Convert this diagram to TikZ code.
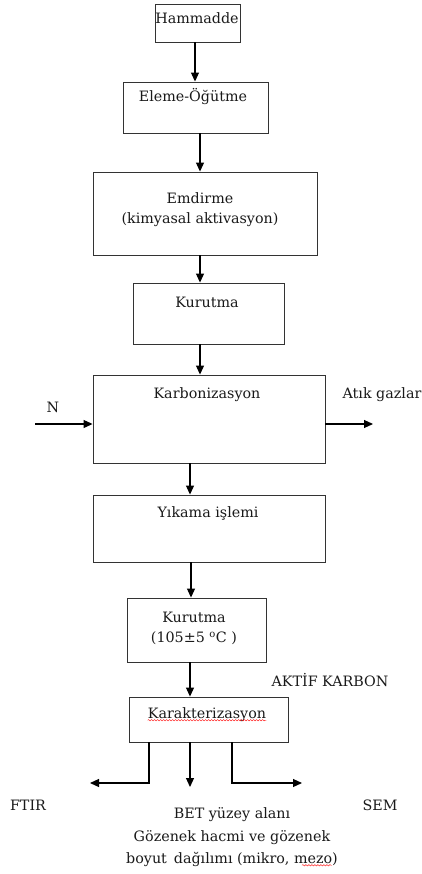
\documentclass[tikz,border=0pt]{standalone}
\usepackage{fontspec}
\setmainfont{DejaVu Serif}
\usetikzlibrary{arrows.meta,decorations.pathmorphing}

\tikzset{
  kutu/.style={draw=black!80, line width=0.9pt, inner sep=0pt},
  yazi/.style={font=\fontsize{14.3}{20}\selectfont, align=center, inner sep=0pt, text=black!90},
  ok/.style={-{Triangle[length=9pt,width=8pt]}, line width=1.1pt},
  hata/.style={red, line width=0.4pt, decorate, decoration={snake, amplitude=0.7pt, segment length=3pt}}
}

\begin{document}
\begin{tikzpicture}[x=1pt,y=-1pt]

  \useasboundingbox (0,0) rectangle (422,874);

  % kutular
  \node[kutu, minimum width=85pt, minimum height=38pt] (ham) at (197.5,23) {};
  \node[kutu, minimum width=145pt, minimum height=51pt] (elem) at (195.5,107.5) {};
  \node[kutu, minimum width=224pt, minimum height=83pt] (emd) at (205,213.5) {};
  \node[kutu, minimum width=151pt, minimum height=61pt] (kur1) at (208.5,313.5) {};
  \node[kutu, minimum width=232pt, minimum height=88pt] (karb) at (209,419) {};
  \node[kutu, minimum width=232pt, minimum height=67pt] (yik) at (209,528.5) {};
  \node[kutu, minimum width=139pt, minimum height=64pt] (kur2) at (196.5,630) {};
  \node[kutu, minimum width=159pt, minimum height=45pt] (kar) at (208.5,719.5) {};

  % yazilar
  \node[yazi] (hamT) at (197,18) {Hammadde};
  \node[yazi] (elemT) at (193,97) {Eleme-Öğütme};
  \node[yazi] (emdT) at (200,210) {Emdirme\\(kimyasal aktivasyon)};
  \node[yazi] (kur1T) at (207,302) {Kurutma};
  \node[yazi] (karbT) at (207,395) {Karbonizasyon};
  \node[yazi] (yikT) at (208,513) {Yıkama işlemi};
  \node[yazi] (kur2T) at (194,628.5) {Kurutma\\(105±5 \textsuperscript{o}C )};
  \node[yazi] (karT) at (207,715) {Karakterizasyon};

  \node[yazi] (nT) at (53,407) {N};
  \node[yazi] (atikT) at (382,395) {Atık gazlar};
  \node[yazi] (aktifT) at (330,680) {AKTİF KARBON};
  \node[yazi] (ftirT) at (28,805) {FTIR};
  \node[yazi] (semT) at (380,805) {SEM};
  \node[yazi, font=\fontsize{14.3}{22.5}\selectfont] (betT) at (232,837.5)
    {BET yüzey alanı\\Gözenek hacmi ve gözenek\\boyut\, dağılımı (mikro, mezo)};

  % yazim denetimi cizgileri
  \draw[hata] ([yshift=2pt]karT.south west) -- ([yshift=2pt]karT.south east);
  \draw[hata] ([xshift=-36pt,yshift=2pt]betT.south east) -- ([xshift=-6pt,yshift=2pt]betT.south east);

  % serbest uclar
  \coordinate (nBas) at (35,424);
  \coordinate (atikUc) at (373,424);
  \coordinate (ftirUc) at (90,783);
  \coordinate (betUc) at (190,787);
  \coordinate (semUc) at (302,783);

  % oklar
  \draw[ok] ([xshift=-2.5pt]ham.south) -- ([xshift=-0.5pt]elem.north);
  \draw[ok] ([xshift=4.5pt]elem.south) -- ([xshift=-5pt]emd.north);
  \draw[ok] ([xshift=-5pt]emd.south) -- ([xshift=-8.5pt]kur1.north);
  \draw[ok] ([xshift=-8.5pt]kur1.south) -- ([xshift=-9pt]karb.north);
  \draw[ok] ([xshift=-19pt]karb.south) -- ([xshift=-19pt]yik.north);
  \draw[ok] ([xshift=-18pt]yik.south) -- ([xshift=-5.5pt]kur2.north);
  \draw[ok] ([xshift=-6.5pt]kur2.south) -- ([xshift=-18.5pt]kar.north);

  \draw[ok] (nBas) -- ([yshift=-5pt]karb.west);
  \draw[ok] ([yshift=-5pt]karb.east) -- (atikUc);

  \draw[ok] ([xshift=-59.5pt]kar.south) |- (ftirUc);
  \draw[ok] ([xshift=-18.5pt]kar.south) -- (betUc);
  \draw[ok] ([xshift=23.5pt]kar.south) |- (semUc);

\end{tikzpicture}
\end{document}
